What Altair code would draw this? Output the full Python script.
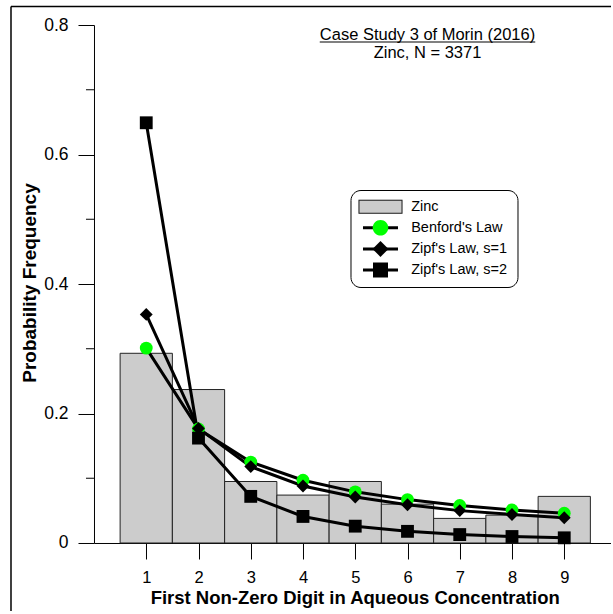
import altair as alt
import pandas as pd

# ---------------- data ----------------
digits = [1, 2, 3, 4, 5, 6, 7, 8, 9]
zinc = [0.293, 0.237, 0.095, 0.074, 0.095, 0.060, 0.038, 0.043, 0.072]
benford = [0.301, 0.176, 0.125, 0.097, 0.079, 0.067, 0.058, 0.051, 0.046]
zipf1 = [0.353, 0.177, 0.118, 0.088, 0.071, 0.059, 0.050, 0.044, 0.039]
zipf2 = [0.649, 0.162, 0.072, 0.041, 0.026, 0.018, 0.013, 0.010, 0.008]
series_names = ["Benford's Law", "Zipf's Law, s=1", "Zipf's Law, s=2"]
legend_labels = ["Zinc"] + series_names
y_major = [0, 0.2, 0.4, 0.6, 0.8]
y_minor = [0.1, 0.3, 0.5, 0.7]
title_line1 = "Case Study 3 of Morin (2016)"
title_line2 = "Zinc, N = 3371"
x_title = "First Non-Zero Digit in Aqueous Concentration"
y_title = "Probability Frequency"

# ---------------- tables ----------------
bar_df = pd.DataFrame({"digit": digits, "freq": zinc})
line_df = pd.concat(
    [pd.DataFrame({"digit": digits, "value": vals, "series": name})
     for name, vals in zip(series_names, [benford, zipf1, zipf2])],
    ignore_index=True,
)
leg_df = pd.DataFrame({"key": legend_labels})
minor_df = pd.DataFrame({"v": y_minor})
one = pd.DataFrame({"t": [title_line1 + "\n" + title_line2]})

# ---------------- layout / style ----------------
FONT = "Liberation Sans"
PX = 52.25                 # pixels per digit unit
XMAX = 9.9
W = XMAX * PX
H = 518
LEFT, TOP = 94, 25

xscale = alt.Scale(domain=[0, XMAX], nice=False, zero=False)
yscale = alt.Scale(domain=[0, 0.8], nice=False)

xaxis = alt.Axis(values=digits, title=x_title, tickSize=16, tickColor="black",
                 domainColor="black", labelColor="black", labelFont=FONT,
                 labelFontSize=16.5, labelPadding=11, format="d", grid=False,
                 titleFont=FONT, titleFontSize=18.5, titleFontWeight="bold",
                 titleColor="black", titleX=260.7, titleY=61,
                 titleBaseline="alphabetic", titleAlign="center")
yaxis = alt.Axis(values=y_major, title=y_title, tickSize=16, tickColor="black",
                 domainColor="black", labelColor="black", labelFont=FONT,
                 labelFontSize=17.5, labelPadding=10, grid=False,
                 labelExpr="datum.value == 0 ? '0' : format(datum.value, '.1f')",
                 titleFont=FONT, titleFontSize=19, titleFontWeight="bold",
                 titleColor="black", titleAngle=270, titleX=-58, titleY=257.5,
                 titleBaseline="alphabetic", titleAlign="center")

# ---------------- data layers ----------------
bars = alt.Chart(bar_df).transform_calculate(
    lo="datum.digit - 0.5", hi="datum.digit + 0.5"
).mark_rect(fill="#cccccc", stroke="#222222", strokeWidth=1).encode(
    x=alt.X("lo:Q", scale=xscale, axis=xaxis),
    x2="hi:Q",
    y=alt.Y("freq:Q", scale=yscale, axis=yaxis),
    y2=alt.datum(0),
)

lines = alt.Chart(line_df).mark_line(color="black", strokeWidth=3).encode(
    x=alt.X("digit:Q", scale=xscale, axis=xaxis),
    y=alt.Y("value:Q", scale=yscale, axis=yaxis),
    detail="series:N",
)

points = alt.Chart(line_df).mark_point(filled=True, opacity=1, size=165, strokeWidth=0).encode(
    x=alt.X("digit:Q", scale=xscale, axis=xaxis),
    y=alt.Y("value:Q", scale=yscale, axis=yaxis),
    shape=alt.Shape("series:N", legend=None,
                    scale=alt.Scale(domain=series_names, range=["circle", "diamond", "square"])),
    fill=alt.Fill("series:N", legend=None,
                  scale=alt.Scale(domain=series_names, range=["#00ff00", "black", "black"])),
)

minor_ticks = alt.Chart(minor_df).mark_rule(color="black", strokeWidth=1).encode(
    y=alt.Y("v:Q", scale=yscale, axis=yaxis),
    x=alt.value(-8), x2=alt.value(0),
)

# ---------------- legend (two overlaid Vega legends) ----------------
# symbolSize 400 -> one path unit = 10 px
BND = "M0,-0.99M13.0,0.99"   # common invisible extent so both legends lay out alike


def P(s):
    return BND + s


LINE = "M-1.75,-0.15L1.75,-0.15L1.75,0.15L-1.75,0.15Z"
leg1_shapes = [
    P("M-2.2,-0.7L2.2,-0.7L2.2,0.7L-2.2,0.7Z"),
    P(LINE), P(LINE), P(LINE),
]
leg2_shapes = [
    P("M-2.2,-0.7L2.2,-0.7L2.2,0.7L-2.2,0.7Z M-2.1,-0.6L-2.1,0.6L2.1,0.6L2.1,-0.6Z"),
    P("M0.78,0A0.78,0.78,0,1,1,-0.78,0A0.78,0.78,0,1,1,0.78,0Z"),
    P("M-0.8,0L0,-0.8L0.8,0L0,0.8Z"),
    P("M-0.75,-0.75L0.75,-0.75L0.75,0.75L-0.75,0.75Z"),
]

common_leg = dict(orient="none", legendX=256.5, legendY=165, title=None,
                  direction="vertical", padding=6.7, symbolSize=400,
                  symbolStrokeWidth=0, labelFont=FONT, labelFontSize=14.5,
                  labelOffset=20.7, symbolOffset=13.3, rowPadding=1.1)

leg1_props = dict(cornerRadius=10, strokeColor="black", fillColor="white",
                  labelColor="black", **common_leg)
legend1 = alt.Chart(leg_df).mark_point(filled=True, opacity=1, strokeWidth=0).encode(
    x=alt.value(-500), y=alt.value(-500),
    shape=alt.Shape("key:N", scale=alt.Scale(domain=legend_labels, range=leg1_shapes),
                    legend=alt.Legend(**leg1_props)),
    fill=alt.Fill("key:N", scale=alt.Scale(domain=legend_labels,
                                            range=["#cccccc", "black", "black", "black"]),
                  legend=alt.Legend(**leg1_props)),
)

legend2 = alt.Chart(leg_df.rename(columns={"key": "key2"})).mark_point(
    filled=True, opacity=1, strokeWidth=0).encode(
    x=alt.value(-500), y=alt.value(-500),
    shape=alt.Shape("key2:N", scale=alt.Scale(domain=legend_labels, range=leg2_shapes),
                    legend=alt.Legend(labelOpacity=0, **common_leg)),
    fill=alt.Fill("key2:N", scale=alt.Scale(domain=legend_labels,
                                             range=["#222222", "#00ff00", "black", "black"]),
                  legend=alt.Legend(labelOpacity=0, **common_leg)),
)

# ---------------- annotations ----------------
TCX = 427.5
TFS = 16.5
title_text = alt.Chart(one).mark_text(font=FONT, fontSize=TFS, align="center",
                                      baseline="alphabetic", color="black",
                                      lineBreak="\n", lineHeight=18.6).encode(
    text="t:N", x=alt.value(TCX - LEFT), y=alt.value(39.5 - TOP))
UHW = 13.06 * TFS / 2
underline = alt.Chart(one).mark_rule(color="black", strokeWidth=1).encode(
    x=alt.value(TCX - UHW - LEFT), x2=alt.value(TCX + UHW - LEFT), y=alt.value(42 - TOP))

frame_left = alt.Chart(one).mark_rule(color="black", strokeWidth=1.5).encode(
    x=alt.value(11 - LEFT), y=alt.value(6.5 - TOP), y2=alt.value(640))
frame_top = alt.Chart(one).mark_rule(color="black", strokeWidth=1.5).encode(
    x=alt.value(11 - LEFT), x2=alt.value(640), y=alt.value(6.5 - TOP))

chart = alt.layer(
    bars, lines, points, minor_ticks, legend1, legend2,
    title_text, underline, frame_left, frame_top,
).resolve_scale(
    shape="independent", fill="independent"
).properties(
    width=W, height=H,
    autosize=alt.AutoSizeParams(type="none"),
    padding={"left": LEFT, "top": TOP, "right": 0, "bottom": 68},
    background="white",
).configure_view(strokeWidth=0)

chart.save("out.html", embed_options={"renderer": "svg", "actions": False})
